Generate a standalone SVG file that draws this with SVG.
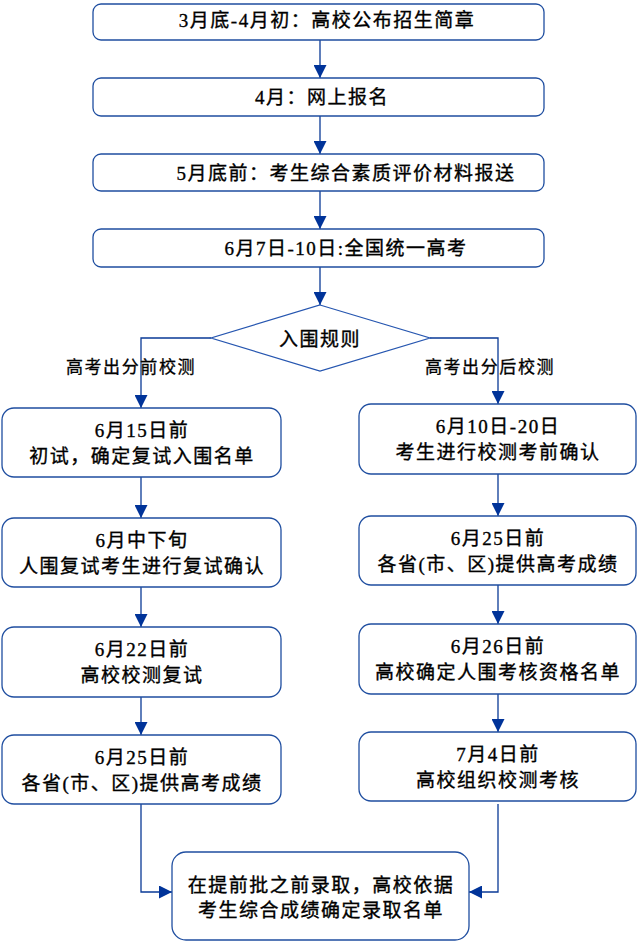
<svg xmlns="http://www.w3.org/2000/svg" width="640" height="942" viewBox="0 0 640 942">
<defs>
<marker id="ah" markerUnits="userSpaceOnUse" markerWidth="13" markerHeight="13" refX="13" refY="6.5" orient="auto">
<path d="M0,0 L13,6.5 L0,13 z" fill="#003399"/>
</marker>
<style>
.box{fill:#ffffff;stroke:#1f4ea0;stroke-width:1.3}
.dia{fill:#ffffff;stroke:#2656b0;stroke-width:1.2}
.con{fill:none;stroke:#0a3a96;stroke-width:1.3}
.t{font-family:"Liberation Serif","Noto Sans CJK SC",serif;font-size:19px;letter-spacing:1.5px;fill:#000000;stroke:#000000;stroke-width:0.35px;text-anchor:middle}
.lb{font-family:"Liberation Serif","Noto Sans CJK SC",serif;font-size:17px;letter-spacing:1.6px;fill:#000000;stroke:#000000;stroke-width:0.3px;text-anchor:middle}
</style>
</defs>
<rect width="640" height="942" fill="#ffffff"/>
<g id="connectors">
<path class="con" d="M320,40 V78" marker-end="url(#ah)"/>
<path class="con" d="M320,116 V154" marker-end="url(#ah)"/>
<path class="con" d="M320,191 V229" marker-end="url(#ah)"/>
<path class="con" d="M320,267 V305" marker-end="url(#ah)"/>
<path class="con" d="M211,338 H141 V408" marker-end="url(#ah)"/>
<path class="con" d="M430,338 H498 V404" marker-end="url(#ah)"/>
<path class="con" d="M141,477 V518" marker-end="url(#ah)"/>
<path class="con" d="M141,587 V627" marker-end="url(#ah)"/>
<path class="con" d="M141,697 V735" marker-end="url(#ah)"/>
<path class="con" d="M498,474 V516" marker-end="url(#ah)"/>
<path class="con" d="M498,585 V624" marker-end="url(#ah)"/>
<path class="con" d="M498,694 V732" marker-end="url(#ah)"/>
<path class="con" d="M141,804 V892 H172" marker-end="url(#ah)"/>
<path class="con" d="M498,804 V892 H469" marker-end="url(#ah)"/>
<text class="lb" x="131" y="373">高考出分前校测</text>
<text class="lb" x="490" y="373">高考出分后校测</text>
</g>
<g id="n1"><rect class="box" x="93" y="4" width="451" height="36" rx="8"/><text class="t" x="327" y="27">3月底-4月初：高校公布招生简章</text></g>
<g id="n2"><rect class="box" x="93" y="78" width="451" height="38" rx="8"/><text class="t" x="322" y="104">4月：网上报名</text></g>
<g id="n3"><rect class="box" x="93" y="154" width="451" height="37" rx="8"/><text class="t" x="346" y="180">5月底前：考生综合素质评价材料报送</text></g>
<g id="n4"><rect class="box" x="93" y="229" width="451" height="38" rx="8"/><text class="t" x="346" y="255">6月7日-10日:全国统一高考</text></g>
<g id="d1"><polygon class="dia" points="320,305 430,338 320,371 211,338"/><text class="t" x="320" y="346">入围规则</text></g>
<g id="l1"><rect class="box" x="2" y="408" width="279" height="69" rx="12"/><text class="t" x="142" y="437">6月15日前</text><text class="t" x="142" y="463">初试，确定复试入围名单</text></g>
<g id="l2"><rect class="box" x="2" y="518" width="279" height="69" rx="12"/><text class="t" x="142" y="547">6月中下旬</text><text class="t" x="142" y="573">人围复试考生进行复试确认</text></g>
<g id="l3"><rect class="box" x="2" y="627" width="279" height="70" rx="12"/><text class="t" x="142" y="656">6月22日前</text><text class="t" x="142" y="682">高校校测复试</text></g>
<g id="l4"><rect class="box" x="2" y="735" width="279" height="69" rx="12"/><text class="t" x="142" y="764">6月25日前</text><text class="t" x="142" y="790">各省(市、区)提供高考成绩</text></g>
<g id="r1"><rect class="box" x="359" y="404" width="277" height="70" rx="12"/><text class="t" x="498" y="433">6月10日-20日</text><text class="t" x="498" y="459">考生进行校测考前确认</text></g>
<g id="r2"><rect class="box" x="359" y="516" width="277" height="69" rx="12"/><text class="t" x="498" y="545">6月25日前</text><text class="t" x="498" y="571">各省(市、区)提供高考成绩</text></g>
<g id="r3"><rect class="box" x="359" y="624" width="277" height="70" rx="12"/><text class="t" x="498" y="653">6月26日前</text><text class="t" x="498" y="679">高校确定人围考核资格名单</text></g>
<g id="r4"><rect class="box" x="359" y="732" width="277" height="69" rx="12"/><text class="t" x="498" y="761">7月4日前</text><text class="t" x="498" y="787">高校组织校测考核</text></g>
<g id="n5"><rect class="box" x="172" y="852" width="297" height="88" rx="14"/><text class="t" x="321" y="892">在提前批之前录取，高校依据</text><text class="t" x="321" y="917">考生综合成绩确定录取名单</text></g>
</svg>
